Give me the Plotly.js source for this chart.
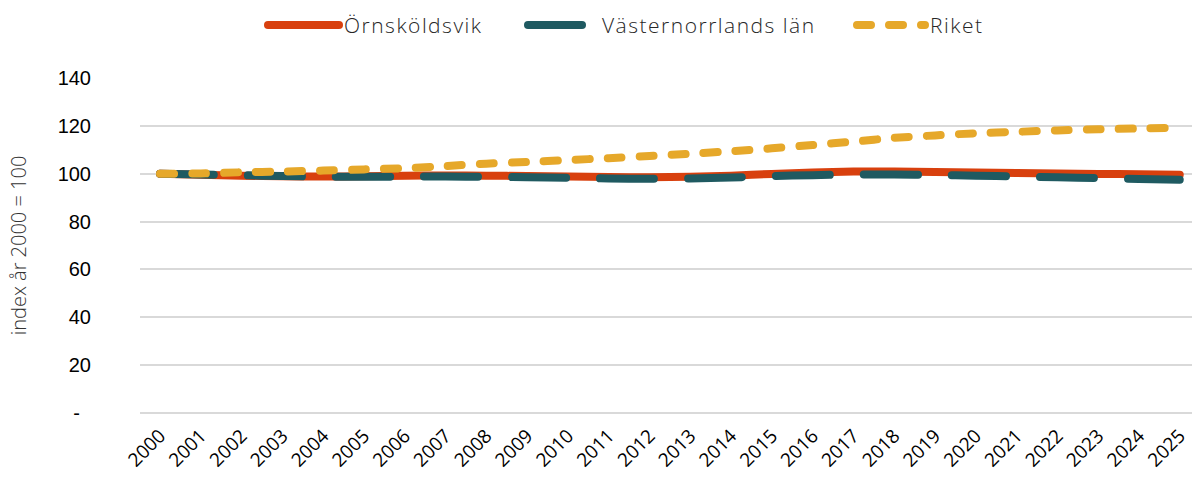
<!DOCTYPE html>
<html>
<head>
<meta charset="utf-8">
<script src="https://cdn.plot.ly/plotly-3.0.1.min.js"></script>
<style>
  html, body { margin: 0; padding: 0; background: #fff; }
  #chart { width: 1192px; height: 484px; }
  .js-line, .shapelayer path { stroke-linecap: round !important; stroke-linejoin: round !important; }
  .annotation-text { letter-spacing: 1.5px; }
</style>
</head>
<body>
<div id="chart"></div>
<script>
const years = ["2000","2001","2002","2003","2004","2005","2006","2007","2008","2009","2010","2011","2012","2013","2014","2015","2016","2017","2018","2019","2020","2021","2022","2023","2024","2025"];
const ornskoldsvik = [100, 99.6, 99.2, 98.9, 98.8, 98.9, 99.2, 99.3, 99.2, 99.0, 98.8, 98.6, 98.5, 98.7, 99.2, 99.9, 100.5, 100.9, 100.9, 100.7, 100.5, 100.3, 100.1, 99.9, 99.8, 99.6];
const vasternorrland = [100, 99.7, 99.4, 99.0, 98.8, 98.7, 98.8, 98.8, 98.7, 98.5, 98.3, 98.0, 97.9, 98.0, 98.4, 99.0, 99.4, 99.7, 99.7, 99.5, 99.2, 98.9, 98.5, 98.2, 97.8, 97.5];
const riket = [100, 100.1, 100.6, 100.9, 101.3, 101.8, 102.3, 103.2, 104.2, 104.9, 105.7, 106.5, 107.4, 108.3, 109.4, 110.6, 112.0, 113.4, 115.0, 116.0, 116.9, 117.5, 118.1, 118.6, 118.9, 119.3];
const seriesNames = ["Örnsköldsvik", "Västernorrlands län", "Riket"];
const yTickVals = [0, 20, 40, 60, 80, 100, 120, 140];
const yTickText = ["-\u00a0\u00a0", "20", "40", "60", "80", "100", "120", "140"];

const colors = ["#D8400E", "#1F5A61", "#E6A82A"];
const dashes = ["solid", "54px,34px", "14px,18px"];
const widths = [8, 8, 8];
const values = [ornskoldsvik, vasternorrland, riket];
const lightFont = "'Open Sans', 'Noto Sans', sans-serif";

const traces = values.map((v, i) => ({
  x: years, y: v, type: "scatter", mode: "lines", name: seriesNames[i],
  line: { color: colors[i], width: widths[i], dash: dashes[i], shape: "spline", smoothing: 0.6 },
  hoverinfo: "x+y+name"
}));

// custom legend (paper coordinates)
const L = 140, W = 1052, B = 413, H = 335;
const px = p => (p - L) / W;
const py = p => (B - p) / H;
const legendItems = [
  { x0: 268, x1: 339, tx: 342 },
  { x0: 528, x1: 590, tx: 600 },
  { x0: 857, x1: 925, tx: 928 }
];
const legY = 25;
const shapes = legendItems.map((it, i) => ({
  type: "line", xref: "paper", yref: "paper",
  x0: px(it.x0), x1: px(it.x1), y0: py(legY), y1: py(legY),
  line: { color: colors[i], width: widths[i], dash: dashes[i] }
}));
const annotations = legendItems.map((it, i) => ({
  xref: "paper", yref: "paper", x: px(it.tx), y: py(legY),
  xanchor: "left", yanchor: "middle", showarrow: false,
  text: seriesNames[i],
  font: { family: lightFont, size: 21, weight: 300, color: "#262626" }
}));

const layout = {
  width: 1192, height: 484,
  margin: { l: 140, r: 0, t: 78, b: 71, pad: 0 },
  paper_bgcolor: "#ffffff", plot_bgcolor: "#ffffff",
  showlegend: false,
  xaxis: {
    type: "category", range: [-0.49, 25.3],
    showgrid: false, zeroline: false, showline: false, ticks: "",
    tickangle: -45, tickfont: { family: lightFont, size: 19, weight: 400, color: "#000" },
    ticklabelstandoff: 7, fixedrange: true
  },
  yaxis: {
    range: [0, 140], tickvals: yTickVals, ticktext: yTickText,
    showgrid: true, gridcolor: "#D9D9D9", gridwidth: 1.5,
    zeroline: true, zerolinecolor: "#D9D9D9", zerolinewidth: 1.5,
    showline: false, ticks: "", ticklabelstandoff: 48,
    tickfont: { family: "'Liberation Sans', Arial, sans-serif", size: 20, color: "#000" },
    title: { text: "index år 2000 = 100", standoff: 25, font: { family: lightFont, size: 20, weight: 300, color: "#333" } },
    fixedrange: true
  },
  shapes: shapes,
  annotations: annotations
};

Plotly.newPlot("chart", traces, layout, { displayModeBar: false });
</script>
</body>
</html>
